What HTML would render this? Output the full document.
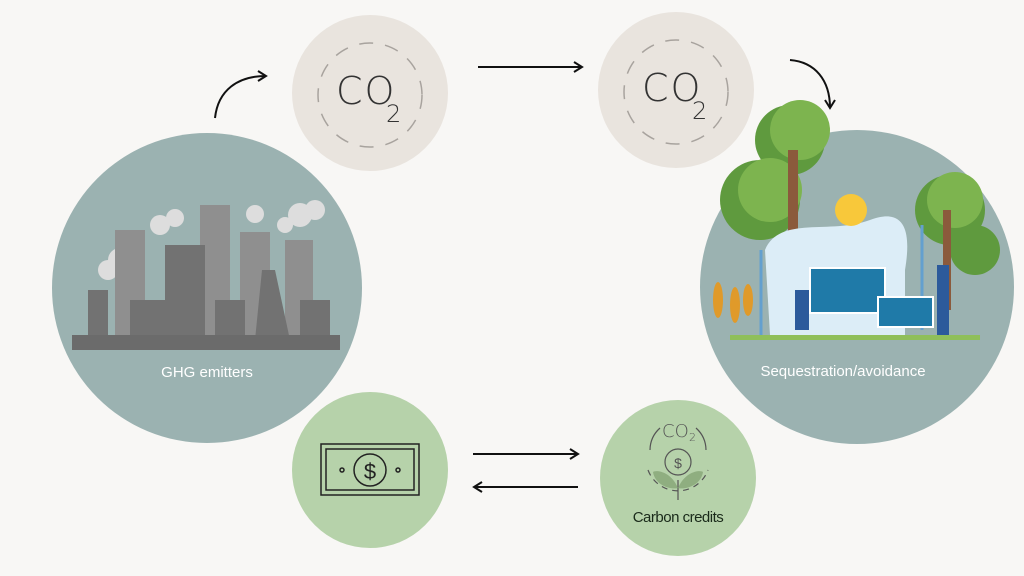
<!DOCTYPE html>
<html><head><meta charset="utf-8"><style>
html,body{margin:0;padding:0;background:#f8f7f5;}
svg{display:block}
text{font-family:"Liberation Sans",sans-serif;}
.co{font-family:"DejaVu Sans ExtraLight","DejaVu Sans","Liberation Sans",sans-serif;font-weight:200;}
</style></head><body>
<svg width="1024" height="576" viewBox="0 0 1024 576" xmlns="http://www.w3.org/2000/svg">
<rect width="1024" height="576" fill="#f8f7f5"/>
<defs><marker id="ah" markerWidth="12" markerHeight="12" refX="9" refY="6" orient="auto" markerUnits="userSpaceOnUse"><path d="M1,1 L9,6 L1,11" fill="none" stroke="#111" stroke-width="2"/></marker></defs>
<circle cx="207" cy="288" r="155" fill="#9bb2b1"/>
<circle cx="857" cy="287" r="157" fill="#9bb2b1"/>
<circle cx="370" cy="93" r="78" fill="#e9e4de"/>
<circle cx="676" cy="90" r="78" fill="#e9e4de"/>
<g fill="none" stroke="#a8a39e" stroke-width="1.5" stroke-dasharray="14 12">
<circle cx="370" cy="95" r="52"/><circle cx="676" cy="92" r="52"/></g>
<text class="co" x="336" y="104" font-size="38" fill="#333" letter-spacing="2">CO</text><text class="co" x="386" y="122" font-size="24" fill="#333">2</text>
<text class="co" x="642" y="101" font-size="38" fill="#333" letter-spacing="2">CO</text><text class="co" x="692" y="119" font-size="24" fill="#333">2</text>
<circle cx="370" cy="470" r="78" fill="#b6d2aa"/>
<circle cx="678" cy="478" r="78" fill="#b6d2aa"/>
<g stroke="#222" fill="none" stroke-width="1.5">
<rect x="321" y="444" width="98" height="51"/>
<rect x="326" y="449" width="88" height="41"/>
<circle cx="370" cy="470" r="16"/>
<circle cx="342" cy="470" r="2"/><circle cx="398" cy="470" r="2"/>
</g>
<text x="370" y="479" font-size="22" text-anchor="middle" fill="#222">$</text>
<g stroke="#555" fill="none" stroke-width="1.2">
<path d="M650,450 A30,30 0 0 1 660,428" /><path d="M696,428 A30,30 0 0 1 706,450"/>
<path d="M648,470 A32,32 0 0 0 708,470" stroke-dasharray="6 5"/>
<circle cx="678" cy="462" r="13"/>
<line x1="678" y1="480" x2="678" y2="500"/>
</g>
<text class="co" x="662" y="437" font-size="18" fill="#555">CO</text><text class="co" x="689" y="441" font-size="11" fill="#555">2</text>
<text x="678" y="468" font-size="14" text-anchor="middle" fill="#555">$</text>
<path d="M678,488 C670,470 655,470 653,472 C655,485 670,490 678,488Z" fill="#8fae80"/>
<path d="M678,488 C686,470 701,470 703,472 C701,485 686,490 678,488Z" fill="#8fae80"/>
<text x="678" y="522" font-size="15" text-anchor="middle" fill="#1a2a1a" letter-spacing="-0.5">Carbon credits</text>
<g stroke="#111" stroke-width="2" fill="none" marker-end="url(#ah)">
<path d="M215,118 C218,90 238,76 266,76"/>
<line x1="478" y1="67" x2="582" y2="67"/>
<path d="M790,60 C815,62 830,80 830,108"/>
<line x1="473" y1="454" x2="578" y2="454"/>
<line x1="578" y1="487" x2="474" y2="487"/>
</g>
<g fill="#ddd"><circle cx="120" cy="260" r="12"/><circle cx="108" cy="270" r="10"/><circle cx="160" cy="225" r="10"/><circle cx="175" cy="218" r="9"/><circle cx="255" cy="214" r="9"/><circle cx="300" cy="215" r="12"/><circle cx="315" cy="210" r="10"/><circle cx="285" cy="225" r="8"/><circle cx="135" cy="288" r="8"/></g>
<g fill="#8f8f8f"><rect x="115" y="230" width="30" height="110"/><rect x="200" y="205" width="30" height="135"/><rect x="240" y="232" width="30" height="108"/><rect x="285" y="240" width="28" height="100"/></g>
<g fill="#727272"><rect x="88" y="290" width="20" height="50"/><rect x="165" y="245" width="40" height="95"/><rect x="130" y="300" width="40" height="40"/><rect x="215" y="300" width="30" height="40"/><polygon points="255,340 262,270 275,270 290,340"/><rect x="300" y="300" width="30" height="40"/></g>
<rect x="72" y="335" width="268" height="15" fill="#6b6b6b"/>
<text x="207" y="377" font-size="15" text-anchor="middle" fill="#fff">GHG emitters</text>
<g fill="#5f9a3e"><circle cx="790" cy="140" r="35"/><circle cx="760" cy="200" r="40"/><circle cx="950" cy="210" r="35"/><circle cx="975" cy="250" r="25"/></g>
<g fill="#7db44f"><circle cx="800" cy="130" r="30"/><circle cx="770" cy="190" r="32"/><circle cx="955" cy="200" r="28"/></g>
<rect x="788" y="150" width="10" height="120" fill="#8b5a3c"/>
<rect x="943" y="210" width="8" height="100" fill="#8b5a3c"/>
<path d="M765,250 C780,215 830,235 870,220 C910,205 910,240 905,270 L905,335 L770,335 Z" fill="#dcedf7"/>
<circle cx="851" cy="210" r="16" fill="#f8c83a"/>
<g stroke="#63a0cf" stroke-width="3"><line x1="761" y1="250" x2="761" y2="335"/><line x1="922" y1="225" x2="922" y2="330"/></g>
<rect x="810" y="268" width="75" height="45" fill="#1f7aa8" stroke="#fff" stroke-width="2"/>
<rect x="878" y="297" width="55" height="30" fill="#1f7aa8" stroke="#fff" stroke-width="2"/>
<rect x="937" y="265" width="12" height="70" fill="#2c5a9b"/>
<rect x="795" y="290" width="14" height="40" fill="#2c5a9b"/>
<g fill="#e09a2a"><ellipse cx="718" cy="300" rx="5" ry="18"/><ellipse cx="735" cy="305" rx="5" ry="18"/><ellipse cx="748" cy="300" rx="5" ry="16"/></g>
<rect x="730" y="335" width="250" height="5" fill="#8fbf5a"/>
<text x="843" y="376" font-size="15" text-anchor="middle" fill="#fff">Sequestration/avoidance</text>
</svg>
</body></html>
